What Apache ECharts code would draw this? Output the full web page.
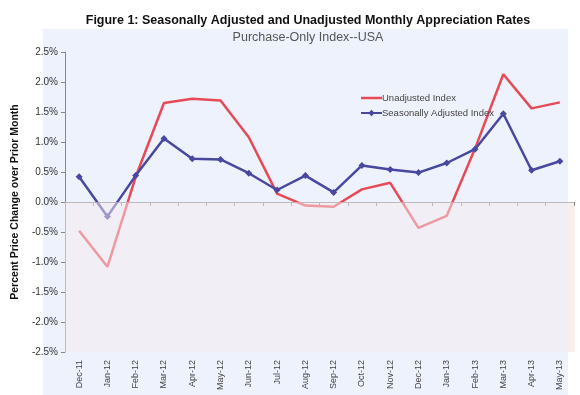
<!DOCTYPE html>
<html>
<head>
<meta charset="utf-8">
<script src="https://cdn.jsdelivr.net/npm/echarts@6/dist/echarts.min.js"></script>
<style>html,body{margin:0;padding:0;background:#fff;}#c{width:580px;height:395px;}</style>
</head>
<body>
<div id="c"></div>
<script>
const categories = ['Dec-11','Jan-12','Feb-12','Mar-12','Apr-12','May-12','Jun-12','Jul-12','Aug-12','Sep-12','Oct-12','Nov-12','Dec-12','Jan-13','Feb-13','Mar-13','Apr-13','May-13'];
const unadjusted = [-0.48,-1.08,0.42,1.65,1.72,1.69,1.08,0.14,-0.06,-0.08,0.21,0.32,-0.43,-0.23,0.89,2.13,1.56,1.66];
const seasonallyAdjusted = [0.42,-0.24,0.44,1.06,0.72,0.71,0.48,0.20,0.44,0.16,0.61,0.54,0.49,0.65,0.88,1.47,0.53,0.68];
const yTicks = {min:-2.5, max:2.5, interval:0.5};

const chart = echarts.init(document.getElementById('c'));
chart.setOption({
  animation:false,
  backgroundColor:'#ffffff',
  textStyle:{fontFamily:'Liberation Sans, Arial, sans-serif'},
  graphic:[
    {type:'rect', z:-10, silent:true, shape:{x:43,y:29,width:525,height:366}, style:{fill:'#eef2fc'}},
    {type:'rect', z:-10, silent:true, shape:{x:568,y:202,width:7,height:150}, style:{fill:'#fdf4ec'}}
  ],
  title:[
    {text:'Figure 1: Seasonally Adjusted and Unadjusted Monthly Appreciation Rates', left:303, textAlign:'center', top:9,
     textStyle:{fontSize:12.5,fontWeight:'bold',color:'#111'}},
    {text:'Purchase-Only Index--USA', left:303, textAlign:'center', top:26,
     textStyle:{fontSize:12.5,fontWeight:'normal',color:'#555'}}
  ],
  legend:{
    left:355, top:88, orient:'vertical', itemGap:5, itemWidth:21, itemHeight:8,
    textStyle:{fontSize:9.5,color:'#444',padding:[0,0,0,-5]},
    data:[
      {name:'Unadjusted Index', icon:'path://M0 0 H22 V2.6 H0 Z', itemStyle:{color:'#e64a56'}},
      {name:'Seasonally Adjusted Index'}
    ]
  },
  grid:{left:65, right:6, top:52, bottom:43},
  xAxis:{
    type:'category', data:categories, boundaryGap:true,
    axisLine:{lineStyle:{color:'#888'}},
    axisTick:{show:true, interval:0, length:4, lineStyle:{color:'#888'}},
    axisLabel:{rotate:90, interval:0, fontSize:9, color:'#444', margin:8}
  },
  yAxis:{
    type:'value', min:yTicks.min, max:yTicks.max, interval:yTicks.interval,
    name:'Percent Price Change over Prior Month', nameLocation:'middle', nameGap:36,
    nameTextStyle:{fontSize:10.5, fontWeight:'bold', color:'#111'},
    axisLine:{show:true, lineStyle:{color:'#888'}},
    axisTick:{show:true, length:4, lineStyle:{color:'#888'}},
    splitLine:{show:false},
    axisLabel:{fontSize:10, color:'#333', margin:7, formatter:v=>v.toFixed(1)+'%'}
  },
  series:[
    {name:'Unadjusted Index', type:'line', data:unadjusted, symbol:'none', z:2,
     lineStyle:{color:'#e64a56', width:2.5}, itemStyle:{color:'#e64a56'}},
    {name:'Seasonally Adjusted Index', type:'line', data:seasonallyAdjusted, symbol:'diamond', symbolSize:7, z:3,
     lineStyle:{color:'#4848a0', width:2.5}, itemStyle:{color:'#4848a0'}},
    {name:'overlay', type:'line', data:[], z:10, silent:true,
     markArea:{silent:true, z:10, itemStyle:{color:'rgba(243,234,238,0.5)'},
       data:[[{yAxis:0},{yAxis:-2.5}]]}}
  ]
});
</script>
</body>
</html>
